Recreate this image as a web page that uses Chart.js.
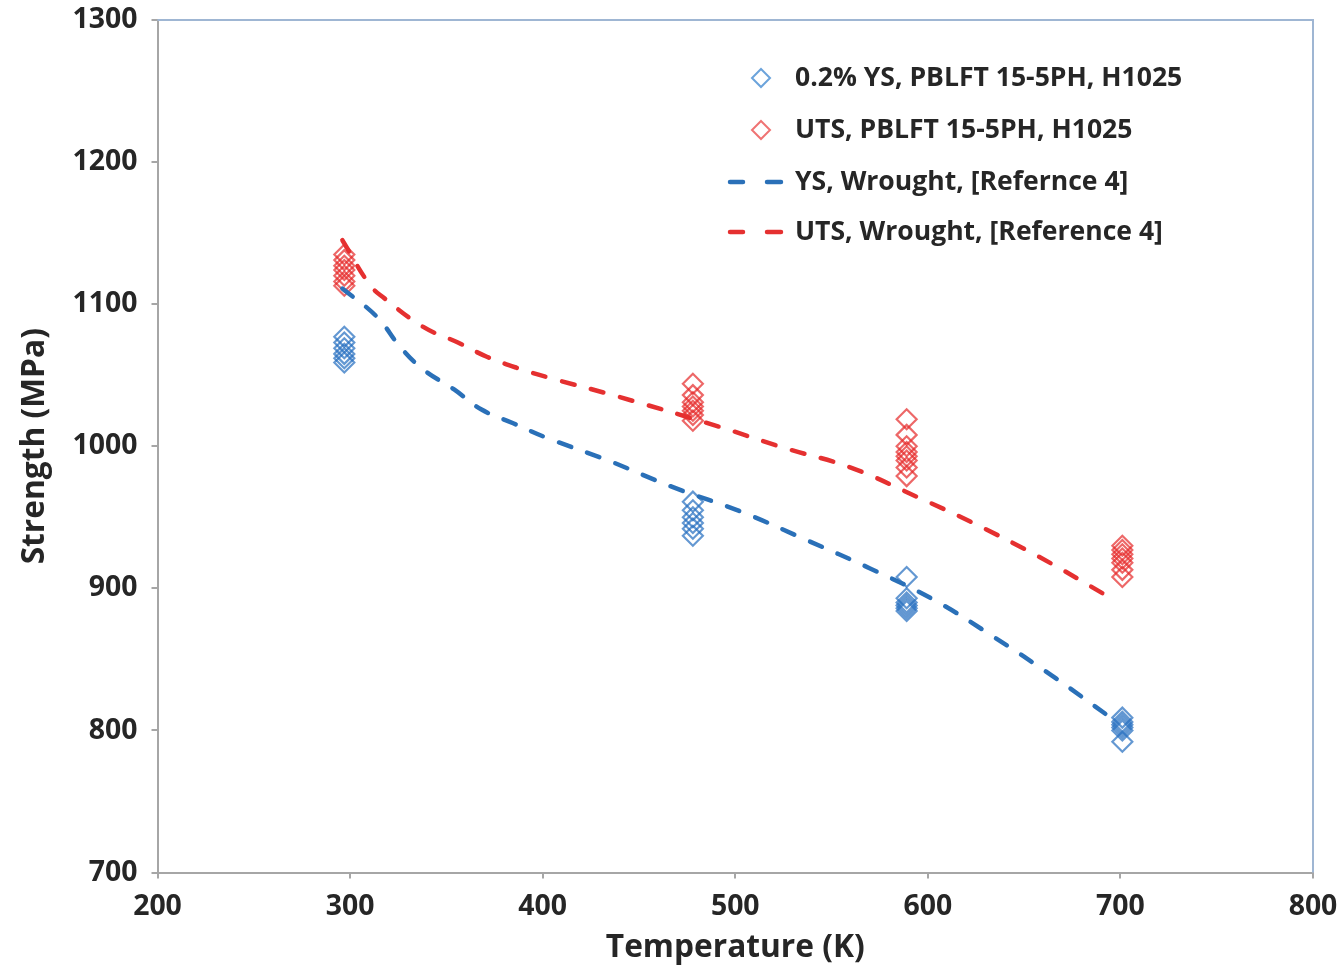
<!DOCTYPE html>
<html><head><meta charset="utf-8">
<script src="https://cdn.jsdelivr.net/npm/chart.js@4.4.1/dist/chart.umd.min.js"></script>
<style>html,body{margin:0;padding:0;background:#fff}canvas{display:block}</style>
</head><body>
<canvas id="c" width="1344" height="973" style="width:1344px;height:973px"></canvas>
<script>
// ---- data ----
const xTickValues = [200, 300, 400, 500, 600, 700, 800];
const yTickValues = [700, 800, 900, 1000, 1100, 1200, 1300];

const ysPblftT = [297,297,297,297,297,297, 478,478,478,478,478,478, 589,589,589,589,589,589, 701,701,701,701,701,701];
const ysPblftV = [1077,1073,1069,1065,1062,1059, 961,955,950,946,942,937, 908,893,890,888,886,884, 809,806,804,802,800,792];

const utsPblftT = [297,297,297,297,297,297,297, 478,478,478,478,478,478,478, 589,589,589,589,589,589,589,589, 701,701,701,701,701,701,701];
const utsPblftV = [1135,1131,1127,1124,1120,1116,1113, 1044,1036,1031,1028,1025,1022,1018, 1019,1008,1000,996,993,990,985,979, 930,927,924,921,918,913,908];

const ysWroughtT = [296,314,326,338,354,368,385,402,434,468,503,537,570,603,634,665,697];
const ysWroughtV = [1111,1091,1070,1054,1040,1026,1016,1006,990,971,954,934,914,892,866,838,807];

const utsWroughtT = [296,310,317,338,356,371,387,404,439,491,525,560,595,622,658,694];
const utsWroughtV = [1145,1114,1105,1084,1073,1063,1055,1048,1035,1014,999,985,964,947,922,894];

const legendLabels = ['0.2% YS, PBLFT 15-5PH, H1025', 'UTS, PBLFT 15-5PH, H1025', 'YS, Wrought, [Refernce 4]', 'UTS, Wrought, [Reference 4]'];

// ---- helpers ----
const FAMILY = 'Open Sans';
function fitFont(text, target) {
  const c = document.createElement('canvas').getContext('2d');
  c.font = 'bold 100px "' + FAMILY + '"';
  return 100 * target / c.measureText(text).width;
}
const pts = (xs, ys) => xs.map((x, i) => ({x: x, y: ys[i]}));

const tickSize = fitFont('1300', 65);
const titleSize = fitFont('Temperature (K)', 259);
const legendSize = fitFont(legendLabels[3], 368);
const TEXT = '#262626';

const BLUE_PT = 'rgba(40,112,192,0.72)';
const RED_PT = 'rgba(230,40,40,0.7)';
const BLUE_LN = '#2a70b8';
const RED_LN = '#e53030';

const legendPlugin = {
  id: 'customLegend',
  afterDraw(chart) {
    const ctx = chart.ctx;
    ctx.save();
    // top & right frame
    const a = chart.chartArea;
    ctx.strokeStyle = '#9fb6d3';
    ctx.lineWidth = 2;
    ctx.beginPath();
    ctx.moveTo(a.left, a.top);
    ctx.lineTo(a.right, a.top);
    ctx.lineTo(a.right, a.bottom);
    ctx.stroke();

    const rows = [78, 130, 182, 232];
    const textX = 795;
    ctx.font = 'bold ' + legendSize + 'px "' + FAMILY + '"';
    ctx.fillStyle = TEXT;
    ctx.textBaseline = 'middle';
    ctx.textAlign = 'left';
    legendLabels.forEach((t, i) => ctx.fillText(t, textX, rows[i]));
    // markers
    const diamond = (cx, cy, col) => {
      ctx.strokeStyle = col; ctx.lineWidth = 2;
      ctx.beginPath();
      ctx.moveTo(cx, cy - 9); ctx.lineTo(cx + 9, cy); ctx.lineTo(cx, cy + 9); ctx.lineTo(cx - 9, cy); ctx.closePath();
      ctx.stroke();
    };
    diamond(761, rows[0], 'rgba(70,140,210,0.8)');
    diamond(761, rows[1], 'rgba(235,80,80,0.8)');
    const dashes = (cy, col) => {
      ctx.strokeStyle = col; ctx.lineWidth = 4.5; ctx.lineCap = 'round';
      ctx.beginPath();
      ctx.moveTo(730, cy); ctx.lineTo(743, cy);
      ctx.moveTo(767, cy); ctx.lineTo(781, cy);
      ctx.stroke();
    };
    dashes(rows[2], BLUE_LN);
    dashes(rows[3], RED_LN);
    ctx.restore();
  }
};

const axisColor = '#a6a6a6';
new Chart(document.getElementById('c'), {
  type: 'scatter',
  data: {
    datasets: [
      {label: legendLabels[2], data: pts(ysWroughtT, ysWroughtV), showLine: true, pointRadius: 0,
       borderColor: BLUE_LN, borderWidth: 4.5, borderDash: [13, 17], borderCapStyle: 'round', tension: 0.4, fill: false, order: 0},
      {label: legendLabels[3], data: pts(utsWroughtT, utsWroughtV), showLine: true, pointRadius: 0,
       borderColor: RED_LN, borderWidth: 4.5, borderDash: [13, 17], borderCapStyle: 'round', tension: 0.4, fill: false, order: 1},
      {label: legendLabels[0], data: pts(ysPblftT, ysPblftV), pointStyle: 'rectRot', pointRadius: 10,
       pointBorderWidth: 2.2, borderColor: BLUE_PT, backgroundColor: 'rgba(0,0,0,0)', order: 2},
      {label: legendLabels[1], data: pts(utsPblftT, utsPblftV), pointStyle: 'rectRot', pointRadius: 10,
       pointBorderWidth: 2.2, borderColor: RED_PT, backgroundColor: 'rgba(0,0,0,0)', order: 3}
    ]
  },
  options: {
    responsive: false,
    animation: false,
    devicePixelRatio: 1,
    events: [],
    layout: {padding: {left: 0, top: 20, right: 31, bottom: 0}},
    plugins: {legend: {display: false}, tooltip: {enabled: false}},
    scales: {
      x: {
        type: 'linear', min: 200, max: 800,
        afterBuildTicks: s => { s.ticks = xTickValues.map(v => ({value: v})); },
        afterFit: s => { s.height = 100.5; s.paddingLeft = 0; s.paddingRight = 0; },
        ticks: {color: TEXT, font: {family: FAMILY, weight: 'bold', size: tickSize}, padding: 11, maxRotation: 0,
                callback: v => String(v)},
        grid: {drawOnChartArea: false, color: axisColor, tickLength: 6, lineWidth: 2},
        border: {color: axisColor, width: 2},
        title: {display: true, text: 'Temperature (K)', color: TEXT,
                font: {family: FAMILY, weight: 'bold', size: titleSize, lineHeight: 1.2},
                padding: {top: 0, bottom: 25 - 0.6 * titleSize}}
      },
      y: {
        type: 'linear', min: 700, max: 1300,
        afterBuildTicks: s => { s.ticks = yTickValues.map(v => ({value: v})); },
        afterFit: s => { s.width = 157.5; s.paddingTop = 0; s.paddingBottom = 0; },
        ticks: {color: TEXT, font: {family: FAMILY, weight: 'bold', size: tickSize}, padding: 14,
                callback: v => String(v)},
        grid: {drawOnChartArea: false, color: axisColor, tickLength: 6, lineWidth: 2},
        border: {color: axisColor, width: 2},
        title: {display: true, text: 'Strength (MPa)', color: TEXT,
                font: {family: FAMILY, weight: 'bold', size: titleSize, lineHeight: 1.2},
                padding: {top: 35 - 0.6 * titleSize, bottom: 0}}
      }
    }
  },
  plugins: [legendPlugin]
});
</script>
</body></html>
